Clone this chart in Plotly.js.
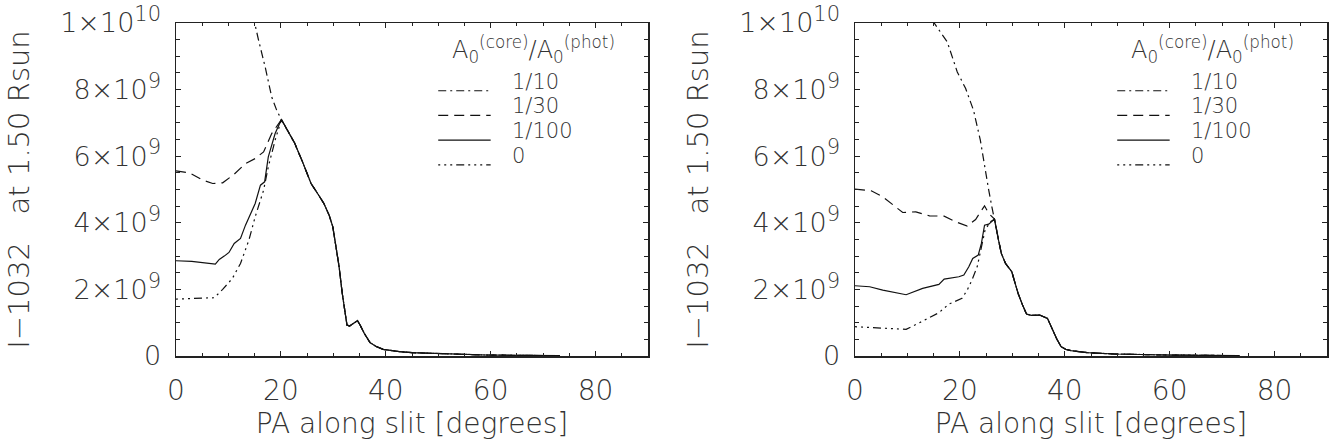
<!DOCTYPE html>
<html>
<head>
<meta charset="utf-8">
<script src="https://cdn.plot.ly/plotly-3.0.1.min.js"></script>
<style>html,body{margin:0;padding:0;background:#fff;}#chart{width:1331px;height:446px;}</style>
</head>
<body>
<div id="chart"></div>
<script>
// Values in units of 1e9 (intensity); x in degrees (PA along slit)
const SCALE = 1e9;
const seriesNames = ["1/10", "1/30", "1/100", "0"];

// ---- Left panel ----
const leftTailX = [20.1, 21.2, 22.6, 24.2, 25.75, 27, 28.2, 29.2, 29.9, 30.4, 31.1, 31.7, 32.3, 32.6, 33.1, 33.9, 34.6, 35.1, 35.9, 37, 38.25, 39.5, 41, 42.6, 45, 48.9, 53, 58.9, 65, 73.2];
const leftTailY = [7.1, 6.8, 6.4, 5.8, 5.18, 4.88, 4.58, 4.23, 3.88, 3.38, 2.68, 1.88, 1.18, 0.93, 0.9, 1.0, 1.06, 0.93, 0.68, 0.4, 0.28, 0.2, 0.16, 0.13, 0.1, 0.08, 0.06, 0.03, 0.02, 0.01];
const left10X  = [13.5, 15, 15.75, 17, 18.25, 19.2];
const left10Y  = [11.3, 10, 9.48, 8.68, 7.78, 7.38];
const left30X  = [0, 2.6, 5.1, 7, 8.9, 11.1, 13.25, 15.1, 16.7, 18.25];
const left30Y  = [5.56, 5.5, 5.28, 5.18, 5.2, 5.46, 5.78, 5.93, 6.13, 6.68];
const left100X = [0, 3, 7.5, 8.25, 9.2, 10.1, 11.1, 12.3, 13.25, 14.2, 15.1, 16.1, 16.9, 17.6, 18.9];
const left100Y = [2.86, 2.84, 2.76, 2.9, 3.0, 3.11, 3.38, 3.53, 3.93, 4.25, 4.58, 5.13, 5.23, 5.98, 6.68];
const left0X   = [0, 7.3, 8.9, 10.75, 12.3, 13.9, 15.1, 16.7, 17.6, 18.9];
const left0Y   = [1.71, 1.75, 2.0, 2.33, 2.78, 3.48, 4.18, 4.98, 5.68, 6.48];

// ---- Right panel ----
const rightTailX = [26.6, 27.2, 27.9, 28.7, 29.9, 30.5, 31.1, 31.9, 32.7, 33.6, 35.2, 36.7, 37.7, 38.5, 39.3, 40.2, 41.2, 44.3, 49.4, 54, 59.4, 66, 73.3];
const rightTailY = [4.11, 3.6, 3.08, 2.78, 2.53, 2.2, 1.88, 1.55, 1.26, 1.22, 1.23, 1.13, 0.78, 0.5, 0.28, 0.2, 0.16, 0.1, 0.06, 0.04, 0.03, 0.02, 0.01];
const right10X  = [13.5, 15.1, 17.6, 19.5, 21.1, 22.6, 23.9, 24.8, 25.5, 26.1];
const right10Y  = [10.6, 10, 9.43, 8.53, 8.03, 7.38, 6.48, 5.58, 4.98, 4.48];
const right30X  = [0, 3.1, 5.3, 9.1, 11.6, 14.2, 17, 19.2, 21.4, 23, 24.7, 25.5];
const right30Y  = [5.01, 4.96, 4.78, 4.31, 4.33, 4.21, 4.2, 4.03, 3.9, 4.1, 4.51, 4.28];
const right100X = [0, 2.8, 5.3, 9.75, 12.9, 16, 17, 17.9, 19.8, 20.75, 21.7, 22.45, 23.5, 24.1, 24.7, 25.5];
const right100Y = [2.11, 2.08, 1.98, 1.84, 2.03, 2.15, 2.31, 2.33, 2.38, 2.43, 2.68, 2.93, 3.03, 3.38, 3.93, 3.96];
const right0X   = [0, 5.3, 9.75, 12.3, 16, 17.9, 20.4, 21.4, 22.3, 23.3, 24.1, 24.8, 25.8];
const right0Y   = [0.88, 0.83, 0.8, 1.0, 1.3, 1.56, 1.73, 1.98, 2.28, 2.68, 3.28, 3.78, 4.03];

// Tick labels
const yTickVals = [0, 2, 4, 6, 8, 10];
const yTickMant = ["0", "2", "4", "6", "8", "1"];
const yTickExp  = ["", "9", "9", "9", "9", "10"];
const xTickVals = [0, 20, 40, 60, 80];

const dashes = ["8px,4px,2px,4px", "10px,6px", "solid", "2px,4px,2px,4px,2px,4px,8px,4px"];
const lineColor = "#111";
const textColor = "#333";
const FONT = "DejaVu Sans, Liberation Sans, sans-serif";
const W = 200;

const yTickText = yTickMant.map((m, i) => yTickExp[i] ? m + "×10<sup><span style=\"font-size:21px\">" + yTickExp[i] + "</span></sup>" : m);

function mk(xh, yh, xt, yt, dash, xa, ya, name) {
  const x = xh.concat(xt), y = yh.concat(yt).map(v => v * SCALE);
  return {x, y, type: "scatter", mode: "lines", name, xaxis: xa, yaxis: ya, showlegend: false,
          line: {color: lineColor, width: 1.2, dash}, hoverinfo: "skip"};
}

const traces = [
  mk(left10X, left10Y, leftTailX, leftTailY, dashes[0], "x", "y", seriesNames[0]),
  mk(left30X, left30Y, leftTailX, leftTailY, dashes[1], "x", "y", seriesNames[1]),
  mk(left100X, left100Y, leftTailX, leftTailY, dashes[2], "x", "y", seriesNames[2]),
  mk(left0X, left0Y, leftTailX, leftTailY, dashes[3], "x", "y", seriesNames[3]),
  mk(right10X, right10Y, rightTailX, rightTailY, dashes[0], "x2", "y2", seriesNames[0]),
  mk(right30X, right30Y, rightTailX, rightTailY, dashes[1], "x2", "y2", seriesNames[1]),
  mk(right100X, right100Y, rightTailX, rightTailY, dashes[2], "x2", "y2", seriesNames[2]),
  mk(right0X, right0Y, rightTailX, rightTailY, dashes[3], "x2", "y2", seriesNames[3])
];

function xAxis(domain, anchor) {
  return {
    domain, anchor, range: [0, 90], tickvals: xTickVals, ticktext: xTickVals.map(String),
    ticks: "inside", ticklen: 5, tickwidth: 1, tickcolor: "#222",
    minor: {dtick: 5, ticks: "inside", ticklen: 3, tickcolor: "#222", showgrid: false},
    showline: true, linecolor: "#222", linewidth: 1.5, mirror: "ticks",
    showgrid: false, zeroline: false, fixedrange: true,
    tickfont: {family: FONT, size: 28, color: textColor, weight: W},
    ticklabelstandoff: 9,
    title: {text: "PA along slit [degrees]", font: {family: FONT, size: 28, color: textColor, weight: W}, standoff: 3}
  };
}
function yAxis(anchor) {
  return {
    domain: [0, 1], anchor, range: [0, 10 * SCALE],
    tickvals: yTickVals.map(v => v * SCALE), ticktext: yTickText,
    ticks: "inside", ticklen: 5, tickwidth: 1, tickcolor: "#222",
    minor: {dtick: 0.5 * SCALE, ticks: "inside", ticklen: 4, tickcolor: "#222", showgrid: false},
    showline: true, linecolor: "#222", linewidth: 1.5, mirror: "ticks",
    showgrid: false, zeroline: false, fixedrange: true,
    tickfont: {family: FONT, size: 27, color: textColor, weight: W},
    ticklabelstandoff: 8,
    title: {text: "I−1032\u00a0\u00a0 at 1.50 Rsun", font: {family: FONT, size: 29, color: textColor, weight: W}, standoff: 22}
  };
}

// Legend (drawn inside each panel)
const legendTitle = "A<sub>0</sub><sup>(core)</sup>/A<sub>0</sub><sup>(phot)</sup>";
const legLineY = [7.965, 7.224, 6.483, 5.742];
const shapes = [], annotations = [];
[["x", "y"], ["x2", "y2"]].forEach(([xa, ya]) => {
  annotations.push({xref: xa, yref: ya, x: 52.3, y: 9.2 * SCALE, xanchor: "left", yanchor: "middle",
    text: legendTitle, showarrow: false, font: {family: FONT, size: 24, color: textColor, weight: W}});
  seriesNames.forEach((nm, i) => {
    shapes.push({type: "line", xref: xa, yref: ya, x0: 50, x1: 60, y0: legLineY[i] * SCALE, y1: legLineY[i] * SCALE,
      line: {color: lineColor, width: 1.2, dash: dashes[i]}});
    annotations.push({xref: xa, yref: ya, x: 63.6, y: (legLineY[i] + 0.27) * SCALE, xanchor: "left", yanchor: "middle",
      text: nm, showarrow: false, font: {family: FONT, size: 21, color: textColor, weight: W}});
  });
});

const layout = {
  width: 1331, height: 446,
  margin: {l: 0, r: 0, t: 23, b: 90, pad: 0},
  paper_bgcolor: "#fff", plot_bgcolor: "#fff",
  showlegend: false,
  xaxis: xAxis([176 / 1331, 648 / 1331], "y"),
  yaxis: yAxis("x"),
  xaxis2: xAxis([855 / 1331, 1327 / 1331], "y2"),
  yaxis2: yAxis("x2"),
  shapes, annotations
};

Plotly.newPlot("chart", traces, layout, {staticPlot: true, displayModeBar: false});
</script>
</body>
</html>
